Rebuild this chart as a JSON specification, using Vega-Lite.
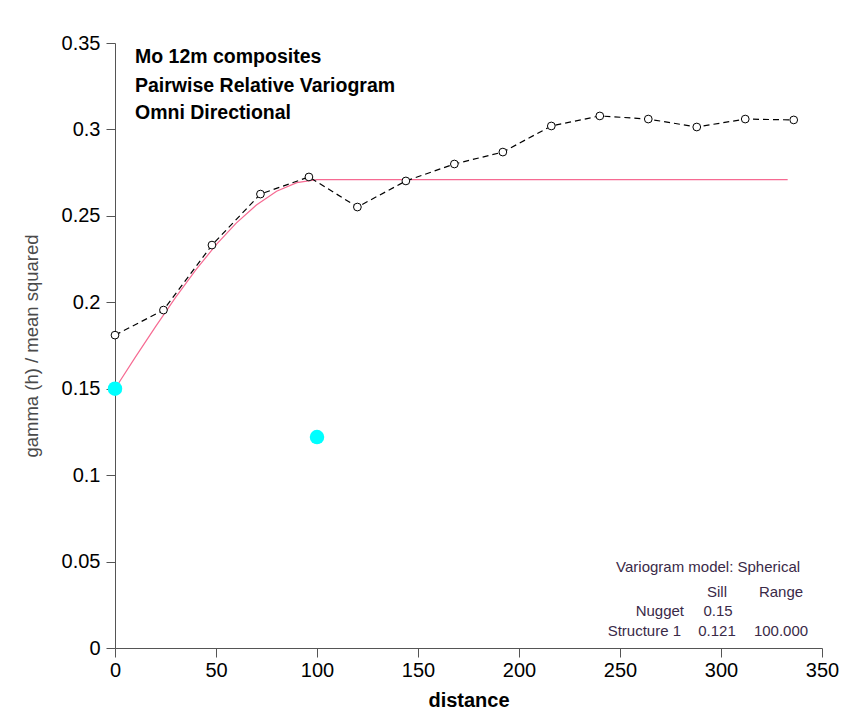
{
  "$schema": "https://vega.github.io/schema/vega-lite/v6.json",
  "autosize": "none",
  "width": 707,
  "height": 605,
  "padding": {"left": 115, "top": 43, "right": 23, "bottom": 75},
  "background": "white",
  "config": {
    "view": {"stroke": null},
    "font": "Liberation Sans",
    "axis": {
      "grid": false,
      "domainColor": "#555555",
      "tickColor": "#555555",
      "tickSize": 9,
      "labelFont": "Liberation Sans",
      "labelFontSize": 20,
      "labelColor": "black",
      "titleFont": "Liberation Sans"
    }
  },
  "datasets": {
    "emp": [
      {"distance": 0, "gamma": 0.181},
      {"distance": 24, "gamma": 0.1955},
      {"distance": 48, "gamma": 0.2331},
      {"distance": 72, "gamma": 0.2626},
      {"distance": 96, "gamma": 0.2725},
      {"distance": 120, "gamma": 0.2551},
      {"distance": 144, "gamma": 0.2702},
      {"distance": 168, "gamma": 0.2800},
      {"distance": 192, "gamma": 0.2869},
      {"distance": 216, "gamma": 0.3020},
      {"distance": 240, "gamma": 0.3078},
      {"distance": 264, "gamma": 0.3060},
      {"distance": 288, "gamma": 0.3014},
      {"distance": 312, "gamma": 0.3060},
      {"distance": 336, "gamma": 0.3055}
    ],
    "model": [
      {"distance": 0, "gamma": 0.15},
      {"distance": 10, "gamma": 0.1681},
      {"distance": 20, "gamma": 0.1858},
      {"distance": 30, "gamma": 0.2028},
      {"distance": 40, "gamma": 0.2187},
      {"distance": 50, "gamma": 0.2332},
      {"distance": 60, "gamma": 0.2458},
      {"distance": 70, "gamma": 0.2563},
      {"distance": 80, "gamma": 0.2642},
      {"distance": 90, "gamma": 0.2692},
      {"distance": 100, "gamma": 0.271},
      {"distance": 333, "gamma": 0.271}
    ],
    "pts": [
      {"distance": 0, "gamma": 0.15},
      {"distance": 100, "gamma": 0.122}
    ]
  },
  "layer": [
    {
      "data": {"name": "model"},
      "mark": {"type": "line", "color": "#f66a92", "strokeWidth": 1.2, "clip": false},
      "encoding": {
        "x": {"field": "distance", "type": "quantitative", "scale": {"domain": [0, 350], "nice": false},
          "axis": {"values": [0, 50, 100, 150, 200, 250, 300, 350], "title": "distance", "titleFontSize": 20, "titleFontWeight": "bold", "titleColor": "black", "titlePadding": 10, "labelPadding": 3, "labelFlush": false}},
        "y": {"field": "gamma", "type": "quantitative", "scale": {"domain": [0, 0.35], "nice": false},
          "axis": {"values": [0, 0.05, 0.1, 0.15, 0.2, 0.25, 0.3, 0.35], "format": ".2~f", "title": "gamma (h) / mean squared", "titleFontSize": 18.5, "titleFontWeight": "normal", "titleColor": "#4a4a4a", "titlePadding": 20, "labelPadding": 6, "labelFlush": false}}
      }
    },
    {
      "data": {"name": "emp"},
      "mark": {"type": "line", "color": "black", "strokeWidth": 1.2, "strokeDash": [6, 4], "clip": false},
      "encoding": {
        "x": {"field": "distance", "type": "quantitative"},
        "y": {"field": "gamma", "type": "quantitative"}
      }
    },
    {
      "data": {"name": "emp"},
      "mark": {"type": "point", "shape": "circle", "size": 60, "stroke": "black", "strokeWidth": 1, "fill": "white", "filled": false, "fillOpacity": 1, "opacity": 1, "clip": false},
      "encoding": {
        "x": {"field": "distance", "type": "quantitative"},
        "y": {"field": "gamma", "type": "quantitative"}
      }
    },
    {
      "data": {"name": "pts"},
      "mark": {"type": "point", "shape": "circle", "size": 210, "filled": true, "color": "#00ffff", "opacity": 1, "clip": false},
      "encoding": {
        "x": {"field": "distance", "type": "quantitative"},
        "y": {"field": "gamma", "type": "quantitative"}
      }
    },
    {
      "data": {"values": [{}]},
      "mark": {"type": "text", "align": "left", "baseline": "middle", "fontSize": 19.5, "fontWeight": "bold", "color": "black"},
      "encoding": {"x": {"datum": 9.9}, "y": {"datum": 0.3419}, "text": {"value": "Mo 12m composites"}}
    },
    {
      "data": {"values": [{}]},
      "mark": {"type": "text", "align": "left", "baseline": "middle", "fontSize": 19.5, "fontWeight": "bold", "color": "black"},
      "encoding": {"x": {"datum": 9.9}, "y": {"datum": 0.3253}, "text": {"value": "Pairwise Relative Variogram"}}
    },
    {
      "data": {"values": [{}]},
      "mark": {"type": "text", "align": "left", "baseline": "middle", "fontSize": 19.5, "fontWeight": "bold", "color": "black"},
      "encoding": {"x": {"datum": 9.9}, "y": {"datum": 0.3095}, "text": {"value": "Omni Directional"}}
    },
    {
      "data": {"values": [{}]},
      "mark": {"type": "text", "align": "center", "baseline": "middle", "fontSize": 15, "color": "#3a2a48"},
      "encoding": {"x": {"datum": 293.6}, "y": {"datum": 0.0469}, "text": {"value": "Variogram model: Spherical"}}
    },
    {
      "data": {"values": [{}]},
      "mark": {"type": "text", "align": "center", "baseline": "middle", "fontSize": 15, "color": "#3a2a48"},
      "encoding": {"x": {"datum": 298}, "y": {"datum": 0.0324}, "text": {"value": "Sill"}}
    },
    {
      "data": {"values": [{}]},
      "mark": {"type": "text", "align": "center", "baseline": "middle", "fontSize": 15, "color": "#3a2a48"},
      "encoding": {"x": {"datum": 329.7}, "y": {"datum": 0.0324}, "text": {"value": "Range"}}
    },
    {
      "data": {"values": [{}]},
      "mark": {"type": "text", "align": "right", "baseline": "middle", "fontSize": 15, "color": "#3a2a48"},
      "encoding": {"x": {"datum": 281.7}, "y": {"datum": 0.0214}, "text": {"value": "Nugget"}}
    },
    {
      "data": {"values": [{}]},
      "mark": {"type": "text", "align": "center", "baseline": "middle", "fontSize": 15, "color": "#3a2a48"},
      "encoding": {"x": {"datum": 298.5}, "y": {"datum": 0.0214}, "text": {"value": "0.15"}}
    },
    {
      "data": {"values": [{}]},
      "mark": {"type": "text", "align": "right", "baseline": "middle", "fontSize": 15, "color": "#3a2a48"},
      "encoding": {"x": {"datum": 280.2}, "y": {"datum": 0.0098}, "text": {"value": "Structure 1"}}
    },
    {
      "data": {"values": [{}]},
      "mark": {"type": "text", "align": "center", "baseline": "middle", "fontSize": 15, "color": "#3a2a48"},
      "encoding": {"x": {"datum": 298}, "y": {"datum": 0.0098}, "text": {"value": "0.121"}}
    },
    {
      "data": {"values": [{}]},
      "mark": {"type": "text", "align": "center", "baseline": "middle", "fontSize": 15, "color": "#3a2a48"},
      "encoding": {"x": {"datum": 329.7}, "y": {"datum": 0.0098}, "text": {"value": "100.000"}}
    }
  ]
}
